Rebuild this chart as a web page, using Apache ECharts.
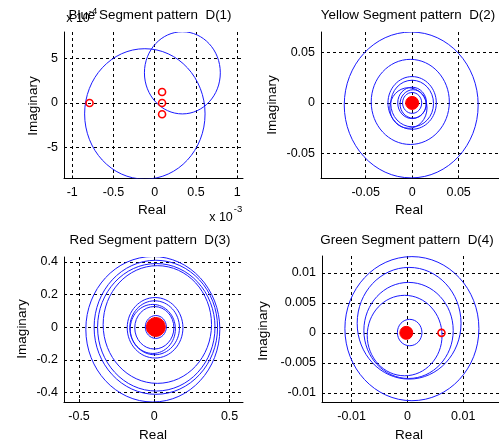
<!DOCTYPE html>
<html>
<head>
<meta charset="utf-8">
<script src="https://cdn.jsdelivr.net/npm/echarts@6/dist/echarts.min.js"></script>
<style>
  html, body { margin: 0; padding: 0; background: #fff; }
  #chart { width: 499px; height: 445px; }
</style>
</head>
<body>
<div id="chart"></div>
<script>
// circles: [centerReal, centerImag, radius]
const blueCircles = [[-0.12e-3, -1.23e-4, 7.3e-4], [0.335e-3, 3.37e-4, 4.6e-4]];
const blueZeros = [[-0.79e-3, 0], [0.089e-3, 1.23e-4], [0.089e-3, 0], [0.089e-3, -1.26e-4]];
const blueBlobs = [];

const yellowCircles = [
  [-0.001, -0.002, 0.072], [-0.002, 0.001, 0.042], [0, 0, 0.026], [0, -0.0006, 0.023],
  [-0.004, -0.005, 0.02], [0, 0, 0.0155], [0.001, -0.001, 0.014], [0, 0, 0.0103], [0, 0, 0.005]
];
const yellowZeros = [];
const yellowBlobs = [[0, 0]];

const redCircles = [
  [-0.01, -0.012, 0.445], [0.01, 0, 0.41], [0.013, 0, 0.39], [0.02, 0.017, 0.36],
  [0.005, -0.003, 0.185], [0.002, -0.003, 0.165], [-0.01, -0.01, 0.15], [0, -0.003, 0.13],
  [0.01, 0.002, 0.07]
];
const redZeros = [];
const redBlobs = [[0.01, 0.002]];

const greenCircles = [
  [0.0008, 0.0007, 0.012], [0.0003, 0.0016, 0.0093], [0.0002, 0.0004, 0.008],
  [-0.0005, -0.00045, 0.0067], [0.0004, 0.00005, 0.0022]
];
const greenZeros = [[0.0061, 0]];
const greenBlobs = [[-0.0002, 0]];

const blueXTicks = [-1e-3, -0.5e-3, 0, 0.5e-3, 1e-3];
const blueYTicks = [-5e-4, 0, 5e-4];
const yellowXTicks = [-0.05, 0, 0.05];
const yellowYTicks = [-0.05, 0, 0.05];
const redXTicks = [-0.5, 0, 0.5];
const redYTicks = [-0.4, -0.2, 0, 0.2, 0.4];
const greenXTicks = [-0.01, 0, 0.01];
const greenYTicks = [-0.01, -0.005, 0, 0.005, 0.01];

const FONT = "Liberation Sans";

const panels = [
  { title: "Blue Segment pattern  D(1)", circles: blueCircles, zeros: blueZeros, blobs: blueBlobs, blobSize: 0,
    xTicks: blueXTicks, yTicks: blueYTicks, xRange: [-1.1e-3, 1.07e-3], yRange: [-8.46e-4, 7.94e-4],
    xFmt: v => String(+(v * 1e3).toFixed(2)), yFmt: v => String(+(v * 1e4).toFixed(2)),
    grid: { left: 64, top: 32, width: 179, height: 146.5 } },
  { title: "Yellow Segment pattern  D(2)", circles: yellowCircles, zeros: yellowZeros, blobs: yellowBlobs, blobSize: 13,
    xTicks: yellowXTicks, yTicks: yellowYTicks, xRange: [-0.098, 0.0934], yRange: [-0.0746, 0.070],
    xFmt: v => String(+v.toFixed(3)), yFmt: v => String(+v.toFixed(3)),
    grid: { left: 321, top: 32, width: 178, height: 146.5 } },
  { title: "Red Segment pattern  D(3)", circles: redCircles, zeros: redZeros, blobs: redBlobs, blobSize: 19,
    xTicks: redXTicks, yTicks: redYTicks, xRange: [-0.6, 0.589], yRange: [-0.457, 0.43],
    xFmt: v => String(+v.toFixed(2)), yFmt: v => String(+v.toFixed(2)),
    grid: { left: 64, top: 257, width: 179, height: 145 } },
  { title: "Green Segment pattern  D(4)", circles: greenCircles, zeros: greenZeros, blobs: greenBlobs, blobSize: 13,
    xTicks: greenXTicks, yTicks: greenYTicks, xRange: [-0.0153, 0.0164], yRange: [-0.0116, 0.0128],
    xFmt: v => String(+v.toFixed(4)), yFmt: v => String(+v.toFixed(4)),
    grid: { left: 322, top: 256, width: 177, height: 146.5 } }
];

function axisCommon(ticks, fmt, range, margin) {
  return {
    type: "value",
    min: range[0],
    max: range[1],
    axisLine: { show: true, onZero: false, lineStyle: { color: "#000", width: 1 } },
    axisTick: { show: true, inside: true, length: 3, customValues: ticks, lineStyle: { color: "#000" } },
    axisLabel: { customValues: ticks, formatter: fmt, color: "#000", fontFamily: FONT, fontSize: 12.5, margin: margin, showMinLabel: true, showMaxLabel: true },
    splitLine: { show: true, lineStyle: { color: "#000", type: [3, 3], width: 1 } }
  };
}

function renderCircle(params, api) {
  const c = api.coord([api.value(0), api.value(1)]);
  const s = api.size([api.value(2), api.value(2)]);
  return {
    type: "ellipse",
    shape: { cx: c[0], cy: c[1], rx: s[0], ry: s[1] },
    style: { fill: "none", stroke: "#1a1aff", lineWidth: 1 }
  };
}

const grid = [], xAxis = [], yAxis = [], series = [];
panels.forEach((p, i) => {
  grid.push(p.grid);
  xAxis.push(Object.assign({ gridIndex: i }, axisCommon(p.xTicks, p.xFmt, p.xRange, 8)));
  yAxis.push(Object.assign({ gridIndex: i }, axisCommon(p.yTicks, p.yFmt, p.yRange, 6)));
  series.push({
    type: "custom", xAxisIndex: i, yAxisIndex: i, clip: true, silent: true,
    renderItem: renderCircle, data: p.circles, z: 2
  });
  series.push({
    type: "scatter", xAxisIndex: i, yAxisIndex: i, data: p.blobs, symbol: "circle",
    symbolSize: p.blobSize, itemStyle: { color: "#ff0000", borderColor: "#ff0000", borderWidth: 1, opacity: 1 }, z: 3
  });
  series.push({
    type: "scatter", xAxisIndex: i, yAxisIndex: i, data: p.zeros, symbol: "circle",
    symbolSize: 7, itemStyle: { color: "rgba(0,0,0,0)", borderColor: "#ff0000", borderWidth: 1.6, opacity: 1 }, z: 4
  });
});

function txt(x, y, s, size, rot) {
  return {
    type: "text", x: x, y: y, rotation: rot || 0, silent: true,
    style: { text: s, fill: "#000", font: size + "px " + FONT, textAlign: "center", textVerticalAlign: "middle" }
  };
}

const graphic = [
  txt(150, 15, panels[0].title, 13.4), txt(408, 15, panels[1].title, 13.4),
  txt(150, 240, panels[2].title, 13.4), txt(407, 240, panels[3].title, 13.4),
  txt(152, 210, "Real", 13.5), txt(409, 210, "Real", 13.5),
  txt(153, 435, "Real", 13.5), txt(409, 435, "Real", 13.5),
  txt(33, 106, "Imaginary", 13.5, Math.PI / 2), txt(272, 105, "Imaginary", 13.5, Math.PI / 2),
  txt(22, 329, "Imaginary", 13.5, Math.PI / 2), txt(263, 331, "Imaginary", 13.5, Math.PI / 2),
  txt(78, 19, "x 10", 12.5), txt(93, 11, "-4", 9.5),
  txt(221, 218, "x 10", 12.5), txt(238, 209, "-3", 9.5)
];

const chart = echarts.init(document.getElementById("chart"));
chart.setOption({
  animation: false,
  backgroundColor: "#fff",
  grid: grid,
  xAxis: xAxis,
  yAxis: yAxis,
  series: series,
  graphic: graphic
});
</script>
</body>
</html>
